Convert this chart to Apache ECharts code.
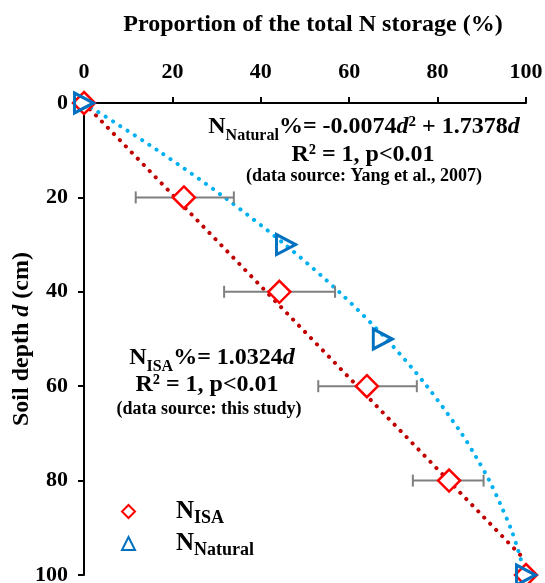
<!DOCTYPE html>
<html>
<head>
<meta charset="utf-8">
<script src="https://cdn.jsdelivr.net/npm/echarts@6/dist/echarts.min.js"></script>
<style>
html,body{margin:0;padding:0;background:#fff;}
#chart{width:545px;height:583px;}
</style>
</head>
<body>
<div id="chart"></div>
<script>
// ---- data ----
const xTicks = [0, 20, 40, 60, 80, 100];
const yTicks = [0, 20, 40, 60, 80, 100];
const depthISA = [0, 20, 40, 60, 80, 100];
const propISA = [0, 22.6, 44.2, 64.0, 82.6, 100];
const errDepth = [20, 40, 60, 80];
const errLow = [11.7, 31.7, 53.0, 74.4];
const errHigh = [33.9, 56.8, 75.3, 90.4];
const depthNat = [0, 30, 50, 100];
const propNat = [0, 45.7, 67.6, 100];
const trendDepthISA = [0, 97];
const trendPropISA = [0, 100];
const trendDepthNat = [0, 10, 20, 30, 40, 50, 60, 70, 75, 80, 85, 90, 95, 100];
const trendPropNat = [0, 16.6, 31.8, 45.5, 57.7, 68.4, 77.6, 85.4, 88.7, 91.7, 94.2, 96.5, 98.3, 99.8];

const FONT = "'Liberation Serif','Times New Roman',serif";
const chart = echarts.init(document.getElementById('chart'), null, {renderer: 'canvas'});

const zip = (ys, xs) => ys.map((y, i) => [xs[i], y]);

const eqRich = {
  n: {fontFamily: FONT, fontWeight: 'bold', fontSize: 24, fill: '#000', verticalAlign: 'bottom'},
  i: {fontFamily: FONT, fontWeight: 'bold', fontStyle: 'italic', fontSize: 24, fill: '#000', verticalAlign: 'bottom'},
  s: {fontFamily: FONT, fontWeight: 'bold', fontSize: 16, fill: '#000', verticalAlign: 'bottom', padding: [0, 0, -5, 0]},
  sup: {fontFamily: FONT, fontWeight: 'bold', fontSize: 15, fill: '#000', verticalAlign: 'top'}
};

const option = {
  animation: false,
  backgroundColor: '#fff',
  grid: {left: 84, right: 19, top: 103, bottom: 8, containLabel: false, outerBoundsMode: 'none'},
  xAxis: {
    type: 'value', position: 'top', min: 0, max: 100, interval: 20,
    name: 'Proportion of the total N storage (%)',
    nameLocation: 'middle', nameGap: 66, nameMoveOverlap: false,
    nameTextStyle: {fontFamily: FONT, fontWeight: 'bold', fontSize: 24, color: '#000', padding: [0, 0, 0, 16]},
    axisLine: {show: true, lineStyle: {color: '#000', width: 2}},
    axisTick: {show: true, inside: false, length: 6, lineStyle: {color: '#000', width: 2}},
    axisLabel: {fontFamily: FONT, fontWeight: 'bold', fontSize: 22, color: '#000', margin: 20,
      formatter: v => xTicks.includes(v) ? String(v) : ''},
    splitLine: {show: false}
  },
  yAxis: {
    type: 'value', inverse: true, min: 0, max: 100, interval: 20,
    name: 'Soil depth {i|d} (cm)',
    nameLocation: 'middle', nameGap: 50, nameRotate: 90, nameMoveOverlap: false,
    nameTextStyle: {fontFamily: FONT, fontWeight: 'bold', fontSize: 24, color: '#000',
      rich: {i: {fontFamily: FONT, fontWeight: 'bold', fontStyle: 'italic', fontSize: 24, color: '#000'}}},
    axisLine: {show: true, lineStyle: {color: '#000', width: 2}},
    axisTick: {show: true, length: 6, lineStyle: {color: '#000', width: 2}},
    axisLabel: {fontFamily: FONT, fontWeight: 'bold', fontSize: 22, color: '#000', margin: 16,
      formatter: v => yTicks.includes(v) ? String(v) : ''},
    splitLine: {show: false}
  },
  legend: {
    orient: 'vertical', left: 116, top: 494, itemGap: 4,
    itemWidth: 13, itemHeight: 13,
    data: [{name: 'NISA', icon: 'diamond'}, {name: 'NNatural', icon: 'triangle'}],
    formatter: n => n === 'NISA' ? '{n|N}{s|ISA}' : '{n|N}{s|Natural}',
    textStyle: {
      padding: [0, 0, 0, 36],
      rich: {
        n: {fontFamily: FONT, fontWeight: 'bold', fontSize: 25, color: '#000', verticalAlign: 'bottom'},
        s: {fontFamily: FONT, fontWeight: 'bold', fontSize: 18, color: '#000', verticalAlign: 'bottom', padding: [0, 0, -3, 0]}
      }
    }
  },
  series: [
    {
      type: 'line', name: 'trendISA', data: zip(trendDepthISA, trendPropISA),
      showSymbol: false, symbol: 'none', silent: true, z: 1,
      lineStyle: {color: '#C00000', width: 4, type: [0.1, 8.5], cap: 'round'}
    },
    {
      type: 'line', name: 'trendNat', data: zip(trendDepthNat, trendPropNat), smooth: 0.3,
      showSymbol: false, symbol: 'none', silent: true, z: 1,
      lineStyle: {color: '#00B0F0', width: 4, type: [0.1, 8.5], cap: 'round'}
    },
    {
      type: 'custom', name: 'err', z: 2, silent: true,
      data: errDepth.map((d, i) => [d, errLow[i], errHigh[i]]),
      encode: {x: [1, 2], y: 0},
      renderItem: function (params, api) {
        const d = api.value(0), lo = api.value(1), hi = api.value(2);
        const p1 = api.coord([lo, d]), p2 = api.coord([hi, d]);
        const h = 6;
        const st = {stroke: '#7F7F7F', lineWidth: 2};
        return {type: 'group', children: [
          {type: 'line', shape: {x1: p1[0], y1: p1[1], x2: p2[0], y2: p2[1]}, style: st},
          {type: 'line', shape: {x1: p1[0], y1: p1[1] - h, x2: p1[0], y2: p1[1] + h}, style: st},
          {type: 'line', shape: {x1: p2[0], y1: p2[1] - h, x2: p2[0], y2: p2[1] + h}, style: st}
        ]};
      }
    },
    {
      type: 'scatter', name: 'NISA', data: zip(depthISA, propISA), clip: false, z: 3,
      symbol: 'diamond', symbolSize: 22,
      itemStyle: {color: '#fff', borderColor: '#FF0000', borderWidth: 2.5, opacity: 1}
    },
    {
      type: 'scatter', name: 'NNatural', data: zip(depthNat, propNat), clip: false, z: 4,
      symbol: 'triangle', symbolSize: [20, 19], symbolRotate: -90,
      itemStyle: {color: 'rgba(255,255,255,0)', borderColor: '#0070C0', borderWidth: 3, opacity: 1}
    }
  ],
  graphic: [
    {
      type: 'text', x: 364, y: 127, z: 10,
      style: {
        text: '{n|N}{s|Natural}{n|%= -0.0074}{i|d}{sup|2}{n| + 1.7378}{i|d}',
        align: 'center', verticalAlign: 'middle', rich: eqRich
      }
    },
    {
      type: 'text', x: 363, y: 155, z: 10,
      style: {text: 'R² = 1, p<0.01', fontFamily: FONT, fontWeight: 'bold', fontSize: 24, fill: '#000', align: 'center', verticalAlign: 'middle'}
    },
    {
      type: 'text', x: 364, y: 176, z: 10,
      style: {text: '(data source: Yang et al., 2007)', fontFamily: FONT, fontWeight: 'bold', fontSize: 18, fill: '#000', align: 'center', verticalAlign: 'middle'}
    },
    {
      type: 'text', x: 212, y: 358, z: 10,
      style: {
        text: '{n|N}{s|ISA}{n|%= 1.0324}{i|d}',
        align: 'center', verticalAlign: 'middle', rich: eqRich
      }
    },
    {
      type: 'text', x: 207, y: 385, z: 10,
      style: {text: 'R² = 1, p<0.01', fontFamily: FONT, fontWeight: 'bold', fontSize: 24, fill: '#000', align: 'center', verticalAlign: 'middle'}
    },
    {
      type: 'text', x: 209, y: 409, z: 10,
      style: {text: '(data source: this study)', fontFamily: FONT, fontWeight: 'bold', fontSize: 18, fill: '#000', align: 'center', verticalAlign: 'middle'}
    }
  ]
};
chart.setOption(option);
</script>
</body>
</html>
